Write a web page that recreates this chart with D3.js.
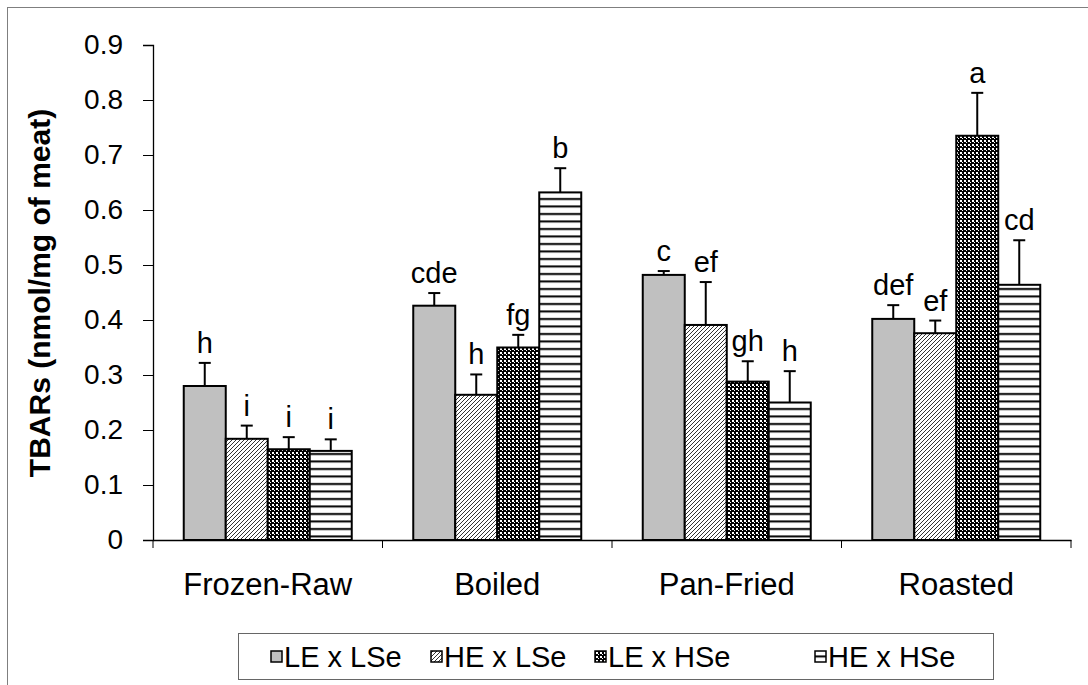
<!DOCTYPE html>
<html>
<head>
<meta charset="utf-8">
<script src="https://cdn.jsdelivr.net/npm/d3@7"></script>
<style>
  html, body { margin: 0; padding: 0; background: #fff; }
  svg { display: block; }
  text { font-family: "Liberation Sans", Arial, sans-serif; fill: #000; }
</style>
</head>
<body>
<svg id="chart" width="1088" height="685"></svg>
<script>
// Cooking methods on the x axis
const categories = ["Frozen-Raw", "Boiled", "Pan-Fried", "Roasted"];
// Diet treatments (energy x selenium)
const seriesNames = ["LE x LSe", "HE x LSe", "LE x HSe", "HE x HSe"];
// Mean TBARs (nmol/mg of meat), one array per treatment, in category order
const leLse = [0.280, 0.426, 0.482, 0.402];
const heLse = [0.184, 0.264, 0.391, 0.376];
const leHse = [0.165, 0.350, 0.288, 0.735];
const heHse = [0.162, 0.632, 0.250, 0.464];
// Standard errors (upper whiskers)
const leLseErr = [0.042, 0.023, 0.007, 0.025];
const heLseErr = [0.024, 0.037, 0.078, 0.023];
const leHseErr = [0.022, 0.023, 0.037, 0.078];
const heHseErr = [0.021, 0.044, 0.057, 0.081];
// Significance letters
const leLseSig = ["h", "cde", "c", "def"];
const heLseSig = ["i", "h", "ef", "ef"];
const leHseSig = ["i", "fg", "gh", "a"];
const heHseSig = ["i", "b", "h", "cd"];
// Y-axis ticks
const yTicks = [0, 0.1, 0.2, 0.3, 0.4, 0.5, 0.6, 0.7, 0.8, 0.9];

const means = [leLse, heLse, leHse, heHse];
const errs = [leLseErr, heLseErr, leHseErr, heHseErr];
const sigs = [leLseSig, heLseSig, leHseSig, heHseSig];

const svg = d3.select("#chart");
const FONT = 28;

// outer chart frame
svg.append("rect")
  .attr("x", 7.5).attr("y", 7.5)
  .attr("width", 1100).attr("height", 700)
  .attr("fill", "none").attr("stroke", "#7f7f7f").attr("stroke-width", 1);

// fill patterns
const defs = svg.append("defs");
const fills = ["#c0c0c0", "url(#pDiag)", "url(#pCheck)", "url(#pHoriz)"];

const pDiag = defs.append("pattern").attr("id", "pDiag")
  .attr("patternUnits", "userSpaceOnUse").attr("width", 4).attr("height", 4);
pDiag.append("rect").attr("width", 4).attr("height", 4).attr("fill", "#fff");
pDiag.append("path").attr("d", "M-1,1 L1,-1 M0,4 L4,0 M3,5 L5,3")
  .attr("stroke", "#333").attr("stroke-width", 1);

const pCheck = defs.append("pattern").attr("id", "pCheck")
  .attr("patternUnits", "userSpaceOnUse").attr("width", 4).attr("height", 4);
pCheck.append("rect").attr("width", 4).attr("height", 4).attr("fill", "#000");
pCheck.append("rect").attr("x", 0).attr("y", 0).attr("width", 2).attr("height", 2).attr("fill", "#fff");
pCheck.append("rect").attr("x", 2).attr("y", 2).attr("width", 1).attr("height", 1).attr("fill", "#fff");

const pHoriz = defs.append("pattern").attr("id", "pHoriz")
  .attr("patternUnits", "userSpaceOnUse").attr("width", 8).attr("height", 7.5);
pHoriz.append("rect").attr("width", 8).attr("height", 7.5).attr("fill", "#fff");
pHoriz.append("rect").attr("y", 3).attr("width", 8).attr("height", 2).attr("fill", "#000");

// scales
const plotLeft = 153, plotRight = 1071, plotTop = 45, plotBottom = 540;
const y = d3.scaleLinear().domain([0, 0.9]).range([plotBottom, plotTop]);
const x = d3.scaleBand().domain(categories).range([plotLeft, plotRight]);
const groupW = x.bandwidth() * 0.732;
const xs = d3.scaleBand().domain(seriesNames)
  .range([(x.bandwidth() - groupW) / 2, (x.bandwidth() + groupW) / 2]);

// bars, error bars, letters
seriesNames.forEach((s, si) => {
  const g = svg.append("g");
  categories.forEach((c, ci) => {
    const v = means[si][ci];
    const e = errs[si][ci];
    const bx = x(c) + xs(s);
    const cx = bx + xs.bandwidth() / 2;
    g.append("rect")
      .attr("x", bx).attr("y", y(v))
      .attr("width", xs.bandwidth()).attr("height", y(0) - y(v))
      .attr("fill", fills[si]).attr("stroke", "#000").attr("stroke-width", 2);
    g.append("line")
      .attr("x1", cx).attr("x2", cx).attr("y1", y(v)).attr("y2", y(v + e))
      .attr("stroke", "#000").attr("stroke-width", 2);
    g.append("line")
      .attr("x1", cx - 6).attr("x2", cx + 6).attr("y1", y(v + e)).attr("y2", y(v + e))
      .attr("stroke", "#000").attr("stroke-width", 2);
    g.append("text")
      .attr("x", cx).attr("y", y(v + e) - 10)
      .attr("text-anchor", "middle").attr("font-size", 29)
      .text(sigs[si][ci]);
  });
});

// y axis
const yAxis = d3.axisLeft(y).tickValues(yTicks)
  .tickFormat(d => d === 0 ? "0" : d3.format(".1f")(d))
  .tickSize(10).tickPadding(20);
const ya = svg.append("g").attr("transform", `translate(${plotLeft},0)`).call(yAxis);
ya.select(".domain").attr("stroke", "#000").attr("stroke-width", 1.3);
ya.selectAll(".tick line").attr("stroke", "#000");
ya.selectAll(".tick text").attr("font-size", FONT).attr("font-family", "Liberation Sans, Arial, sans-serif").attr("fill", "#000");

// x axis
const xAxis = d3.axisBottom(x).tickSize(0).tickPadding(33);
const xa = svg.append("g").attr("transform", `translate(0,${plotBottom})`).call(xAxis);
xa.select(".domain").attr("stroke", "#000").attr("stroke-width", 1.3);
xa.selectAll(".tick text").attr("font-size", 31).attr("font-family", "Liberation Sans, Arial, sans-serif").attr("fill", "#000");
// category separators
const sepPos = categories.map(c => x(c)).concat([plotRight]);
xa.selectAll(".sep").data(sepPos).enter().append("line")
  .attr("x1", d => d).attr("x2", d => d).attr("y1", 0).attr("y2", 8)
  .attr("stroke", "#000").attr("stroke-width", 1);

// y axis title
svg.append("text")
  .attr("transform", "translate(50,293) rotate(-90)")
  .attr("text-anchor", "middle").attr("font-size", 30).attr("font-weight", "bold")
  .text("TBARs (nmol/mg of meat)");

// legend
const legend = svg.append("g");
legend.append("rect")
  .attr("x", 238.5).attr("y", 633.5).attr("width", 755).attr("height", 46)
  .attr("fill", "#fff").attr("stroke", "#666").attr("stroke-width", 1);
const legendX = [271, 431, 595, 815];
seriesNames.forEach((s, i) => {
  legend.append("rect")
    .attr("x", legendX[i]).attr("y", 651).attr("width", 11).attr("height", 11)
    .attr("fill", fills[i]).attr("stroke", "#000").attr("stroke-width", 1.5);
  legend.append("text")
    .attr("x", legendX[i] + 13).attr("y", 667)
    .attr("font-size", 29).text(s);
});
</script>
</body>
</html>
